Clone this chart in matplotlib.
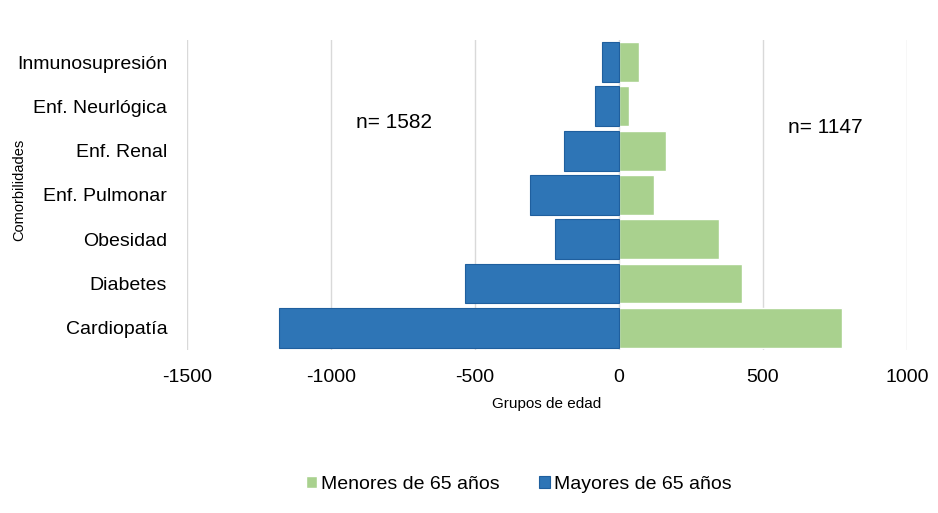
import matplotlib
matplotlib.use("Agg")
import matplotlib.pyplot as plt
import numpy as np

# comorbidity counts by age group
comorbilidades = ["Cardiopatía", "Diabetes", "Obesidad", "Enf. Pulmonar",
                  "Enf. Renal", "Enf. Neurlógica", "Inmunosupresión"]
mayores = [1179, 534, 223, 307, 191, 82, 60]
menores = [774, 426, 346, 121, 164, 36, 69]

plt.rcParams['font.family'] = ["Liberation Sans", "DejaVu Sans"]
plt.rcParams['axes.unicode_minus'] = False

fig = plt.figure(figsize=(9.38, 5.13), dpi=100)
ax = fig.add_axes([0.199, 0.318, 0.768, 0.604])

y = np.arange(len(comorbilidades))
ax.barh(y, menores, height=0.9, color="#A9D18E", edgecolor="white",
        linewidth=1, label="Menores de 65 años", zorder=3)
ax.barh(y, [-v for v in mayores], height=0.9, color="#2E75B6",
        edgecolor="#1F5F9E", linewidth=0.8, label="Mayores de 65 años", zorder=3)

ax.set_xlim(-1500, 1000)
ax.set_ylim(-0.5, 6.5)
ax.set_xticks([-1500, -1000, -500, 0, 500, 1000])
ax.set_yticks(y)
ax.set_yticklabels(comorbilidades)
ax.tick_params(axis="both", length=0, labelsize=14)
ax.tick_params(axis="x", pad=14)
ax.tick_params(axis="y", pad=14)
ax.grid(axis="x", color="#D9D9D9", linewidth=1, zorder=0)
for s in ax.spines.values():
    s.set_visible(False)

ax.set_xlabel("Grupos de edad", fontsize=11, labelpad=8)
fig.text(0.02, 0.63, "Comorbilidades", rotation=90, fontsize=10.5,
         va="center", ha="center")

ax.text(-780, 4.64, "n= 1582", fontsize=15, va="center", ha="center")
ax.text(715, 4.53, "n= 1147", fontsize=15, va="center", ha="center")

fig.legend(loc="center", bbox_to_anchor=(0.553, 0.056), ncol=2, frameon=False,
           fontsize=14, handlelength=0.6, handleheight=0.6, handletextpad=0.2,
           columnspacing=2.0)

fig.savefig("out.png", dpi=100)
